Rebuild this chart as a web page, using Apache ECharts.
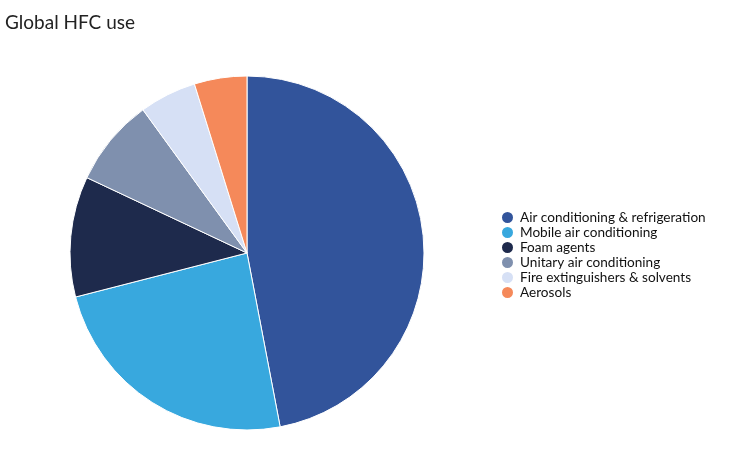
<!DOCTYPE html>
<html>
<head>
<meta charset="utf-8">
<script src="https://cdn.jsdelivr.net/npm/echarts@6/dist/echarts.min.js"></script>
<style>html,body{margin:0;padding:0;background:#fff;}#c{width:741px;height:451px;}</style>
</head>
<body>
<div id="c"></div>
<script>
const categories = ["Air conditioning & refrigeration","Mobile air conditioning","Foam agents","Unitary air conditioning","Fire extinguishers & solvents","Aerosols"];
const values = [47, 24, 11, 8, 5.2, 4.8];
const colors = ["#32549b","#38a8de","#1e2a4c","#7f90ae","#d6e0f5","#f5895a"];

const chart = echarts.init(document.getElementById('c'));
chart.setOption({
  animation: false,
  title: {
    text: 'Global HFC use', left: 0, top: 8,
    textStyle: {fontFamily: 'Lato', fontSize: 19, fontWeight: 'normal', color: '#222'}
  },
  legend: {
    orient: 'vertical', left: 495, top: 205,
    itemWidth: 13, itemHeight: 13, itemGap: 0, icon: 'circle',
    textStyle: {fontFamily: 'Lato', fontSize: 13.6, lineHeight: 13, color: '#111', padding: [0,0,0,1]},
    data: categories
  },
  series: [{
    type: 'pie', center: [247, 253], radius: 177,
    startAngle: 90, clockwise: true,
    label: {show: false}, labelLine: {show: false},
    itemStyle: {borderColor: '#fff', borderWidth: 1},
    emphasis: {disabled: true},
    data: categories.map((n, i) => ({name: n, value: values[i], itemStyle: {color: colors[i]}}))
  }]
});
</script>
</body>
</html>
